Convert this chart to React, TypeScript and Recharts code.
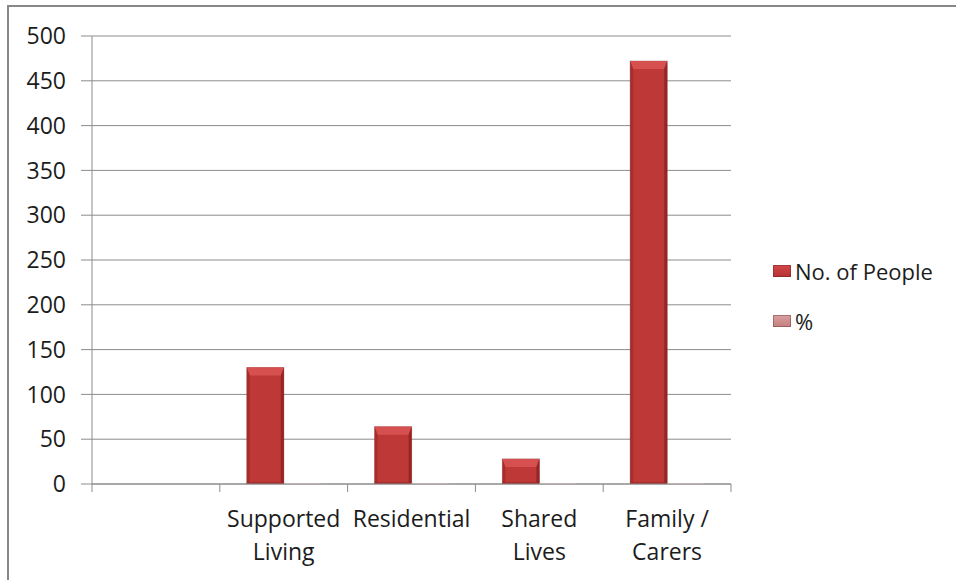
import React from "react";
import { BarChart, Bar, XAxis, YAxis, CartesianGrid, Legend } from "recharts";

const categories = ["", "Supported Living", "Residential", "Shared Lives", "Family / Carers"];
const categoryLines = [[""], ["Supported", "Living"], ["Residential"], ["Shared", "Lives"], ["Family /", "Carers"]];
const people = [null, 130, 64, 28, 472];
const percent = [null, 0.19, 0.09, 0.04, 0.68];
const yTicks = [0, 50, 100, 150, 200, 250, 300, 350, 400, 450, 500];

const data = categories.map((name, i) => ({ name, people: people[i], percent: percent[i] }));

const FONT = "'Open Sans', 'Liberation Sans', sans-serif";
const GRID = "#8c8c8c";
const TEXT = "#1c1c1c";

function BevelBar(props: any) {
  const { x, y, width, height, face, light, dark } = props;
  if (height == null || width == null) return null;
  if (height < 1.5) {
    return <rect x={x} y={y + height - 1} width={width} height={1} fill="#ead6d6" />;
  }
  const b = Math.min(8, height / 2);
  const s = Math.min(3, width / 6);
  return (
    <g>
      <rect x={x - 0.5} y={y - 0.5} width={width + 1} height={height + 0.5} fill="#8a5a5a" opacity={0.5} />
      <rect x={x} y={y} width={width} height={height} fill={face} />
      <polygon points={`${x},${y} ${x + width},${y} ${x + width - s},${y + b} ${x + s},${y + b}`} fill={light} />
      <polygon points={`${x},${y} ${x + s},${y + b} ${x + s},${y + height - 2} ${x},${y + height}`} fill={dark} opacity={0.6} />
      <polygon points={`${x + width},${y} ${x + width - s},${y + b} ${x + width - s},${y + height - 2} ${x + width},${y + height}`} fill={dark} />
      <rect x={x} y={y + height - 2} width={width} height={2} fill={dark} opacity={0.6} />
    </g>
  );
}

function CategoryTick(props: any) {
  const { x, y, index, payload, visibleTicksCount } = props;
  const lines = categoryLines[index] || [];
  const half = payload && payload.offset ? payload.offset : 0;
  const last = index === (visibleTicksCount ?? categories.length) - 1;
  return (
    <g>
      {half > 0 && <line x1={x - half} x2={x - half} y1={y} y2={y + 8} stroke={GRID} />}
      {half > 0 && last && <line x1={x + half} x2={x + half} y1={y} y2={y + 8} stroke={GRID} />}
      {lines.map((line, i) => (
        <text key={i} x={x} y={y + 43 + i * 33} textAnchor="middle" fill={TEXT} fontSize={23} fontFamily={FONT}>
          {line}
        </text>
      ))}
    </g>
  );
}

function LegendContent() {
  const items = [
    { label: "No. of People", color: "#b53232", top: "#d24848" },
    { label: "%", color: "#c47f7f", top: "#d9a0a0" },
  ];
  return (
    <div style={{ fontFamily: FONT, fontSize: 22, color: TEXT }}>
      {items.map((it) => (
        <div key={it.label} style={{ display: "flex", alignItems: "center", height: 50 }}>
          <span
            style={{
              display: "inline-block",
              width: 18,
              height: 12,
              marginRight: 4,
              background: `linear-gradient(${it.top}, ${it.color})`,
              boxShadow: "inset 0 0 0 1px rgba(90,30,30,0.35)",
            }}
          />
          <span>{it.label}</span>
        </div>
      ))}
    </div>
  );
}

export default function App() {
  return (
    <div style={{ position: "fixed", left: 0, top: 0, width: 956, height: 580, background: "#fff" }}>
      <div
        style={{
          position: "absolute",
          left: 7,
          top: 5,
          right: 0,
          bottom: 0,
          borderLeft: "2px solid #888",
          borderTop: "2px solid #888",
        }}
      />
      <div style={{ position: "absolute", left: 0, top: 0 }}>
        <BarChart
          width={956}
          height={580}
          data={data}
          margin={{ top: 36, right: 225, left: 0, bottom: 0 }}
          barGap={0}
          barSize={37}
        >
          <CartesianGrid horizontal vertical={false} stroke={GRID} strokeWidth={1} />
          <XAxis
            dataKey="name"
            height={96}
            tickLine={false}
            tickSize={0}
            tickMargin={0}
            axisLine={{ stroke: GRID }}
            tick={<CategoryTick />}
            interval={0}
          />
          <YAxis
            domain={[0, 500]}
            ticks={yTicks}
            width={92}
            tickSize={11}
            tickMargin={15}
            axisLine={{ stroke: GRID }}
            tickLine={{ stroke: GRID }}
            tick={{ fill: TEXT, fontSize: 23, fontFamily: FONT }}
          />
          <Legend
            layout="horizontal"
            align="center"
            verticalAlign="middle"
            content={<LegendContent />}
            wrapperStyle={{ position: "absolute", left: 773, top: 246, width: 180 }}
          />
          <Bar
            dataKey="people"
            name="No. of People"
            isAnimationActive={false}
            shape={(p: any) => <BevelBar {...p} face="#bf3838" light="#d65050" dark="#962626" />}
          />
          <Bar
            dataKey="percent"
            name="%"
            isAnimationActive={false}
            shape={(p: any) => <BevelBar {...p} face="#c47f7f" light="#d9a0a0" dark="#a86060" />}
          />
        </BarChart>
      </div>
    </div>
  );
}
